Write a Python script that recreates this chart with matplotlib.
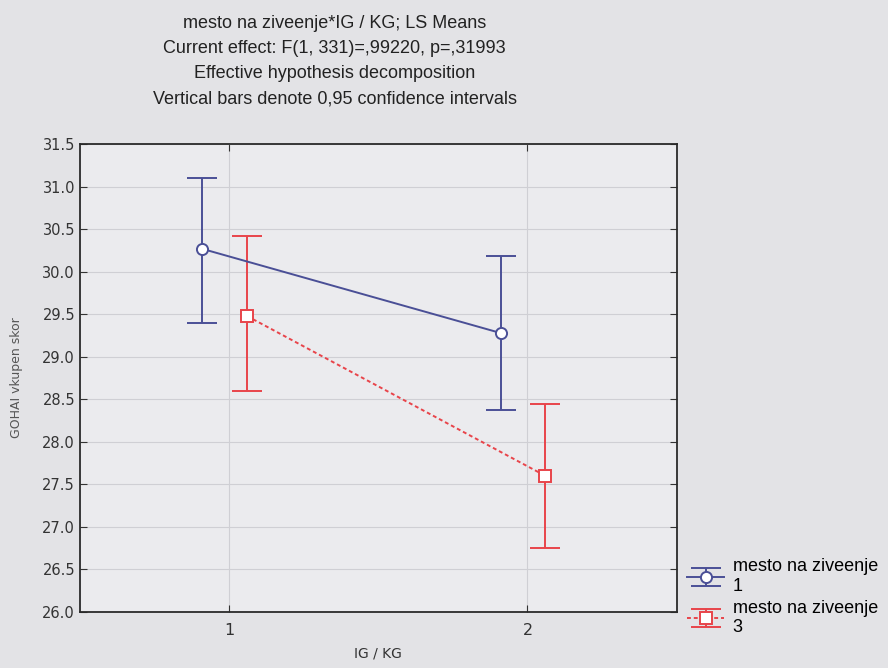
import numpy as np
import matplotlib
matplotlib.use("Agg")
import matplotlib.pyplot as plt
from matplotlib.ticker import FormatStrFormatter

# IG / KG groups
groups = [1, 2]
series_names = ["mesto na ziveenje\n1", "mesto na ziveenje\n3"]

# LS means and 0.95 confidence limits
mean_1 = [30.27, 29.28]
low_1 = [29.40, 28.37]
high_1 = [31.10, 30.19]

mean_3 = [29.48, 27.60]
low_3 = [28.60, 26.75]
high_3 = [30.42, 28.45]

title_lines = [
    "mesto na ziveenje*IG / KG; LS Means",
    "Current effect: F(1, 331)=,99220, p=,31993",
    "Effective hypothesis decomposition",
    "Vertical bars denote 0,95 confidence intervals",
]

blue = "#4a4f96"
red = "#e8444a"
paper = "#e3e3e6"

fig = plt.figure(figsize=(8.88, 6.68), dpi=100, facecolor=paper)
ax = fig.add_axes([0.09, 0.084, 0.672, 0.70], facecolor="#ebebee")

x = np.array(groups, dtype=float)

def draw(xs, m, lo, hi, color, marker, ls, label):
    m = np.array(m)
    yerr = [m - np.array(lo), np.array(hi) - m]
    ax.errorbar(xs, m, yerr=yerr, color=color, ls=ls, lw=1.4,
                marker=marker, ms=8, mfc="white", mec=color, mew=1.4,
                capsize=11, capthick=1.4, elinewidth=1.4, label=label)

draw(x - 0.09, mean_1, low_1, high_1, blue, "o", "-", series_names[0])
draw(x + 0.06, mean_3, low_3, high_3, red, "s", (0, (2, 1.5)), series_names[1])

ax.set_xlim(0.5, 2.5)
ax.set_ylim(26.0, 31.5)
ax.set_xticks(groups)
ax.set_yticks(np.arange(26.0, 31.51, 0.5))
ax.yaxis.set_major_formatter(FormatStrFormatter("%.1f"))
ax.tick_params(direction="in", top=True, right=True, length=5,
               colors="#333333", labelcolor="#333333")
ax.tick_params(axis="y", labelsize=10.5)
ax.tick_params(axis="x", labelsize=11.5, pad=8)
ax.grid(True, color="#cfcfd4", lw=0.8)
ax.set_axisbelow(True)
for s in ax.spines.values():
    s.set_color("#2a2a2a")
    s.set_linewidth(1.3)

ax.set_xlabel("IG / KG", fontsize=10, color="#333333", labelpad=6)
ax.set_ylabel("GOHAI vkupen skor", fontsize=9, color="#555555", labelpad=14)

for i, line in enumerate(title_lines):
    fig.text(0.377, 0.965 - i * 0.0375, line, ha="center", va="center",
             fontsize=13, color="#222222", family="Liberation Sans")

ax.legend(loc="lower left", bbox_to_anchor=(1.0, -0.075), frameon=False,
          handlelength=2.0, labelspacing=0.25,
          borderaxespad=0.2, handletextpad=0.5,
          prop={"family": "Liberation Sans", "size": 13})

fig.savefig("out.png", dpi=100, facecolor=paper)
